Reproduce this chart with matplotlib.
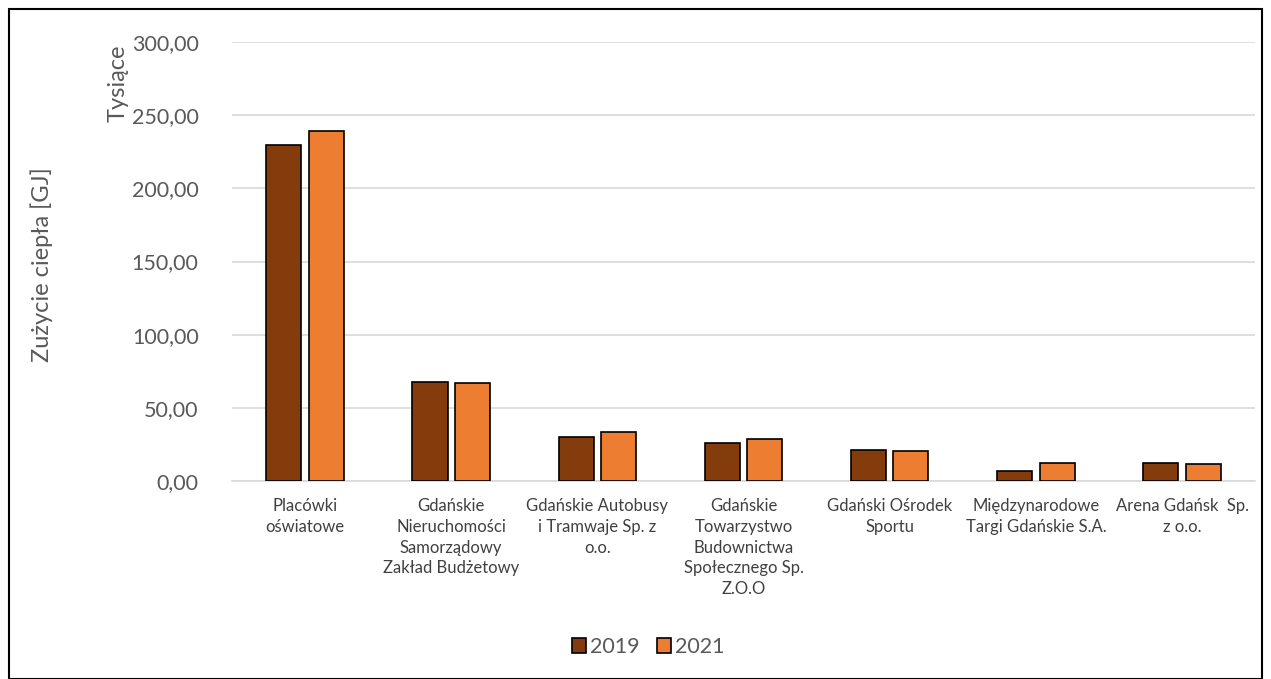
import matplotlib.pyplot as plt
import numpy as np
from matplotlib.patches import Rectangle

# Data (thousands of GJ)
categories = [
    "Placówki\noświatowe",
    "Gdańskie\nNieruchomości\nSamorządowy\nZakład Budżetowy",
    "Gdańskie Autobusy\ni Tramwaje Sp. z\no.o.",
    "Gdańskie\nTowarzystwo\nBudownictwa\nSpołecznego Sp.\nZ.O.O",
    "Gdański Ośrodek\nSportu",
    "Międzynarodowe\nTargi Gdańskie S.A.",
    "Arena Gdańsk  Sp.\nz o.o.",
]
values_2019 = [229.6, 67.5, 30.0, 25.7, 21.2, 6.8, 12.0]
values_2021 = [239.2, 67.0, 33.7, 28.7, 20.7, 12.5, 11.8]
series_names = ["2019", "2021"]
colors = ["#843c0c", "#ed7d31"]
yticks = [0, 50, 100, 150, 200, 250, 300]

plt.rcParams['font.family'] = ['Lato', 'DejaVu Sans']

fig = plt.figure(figsize=(12.71, 6.79), dpi=100)
ax = fig.add_axes([0.1825, 0.2916, 0.805, 0.6464])

x = np.arange(len(categories))
w = 0.24
gap = 0.05
ax.bar(x - (w + gap) / 2, values_2019, w, color=colors[0], edgecolor="black",
       linewidth=1.2, label=series_names[0], zorder=3)
ax.bar(x + (w + gap) / 2, values_2021, w, color=colors[1], edgecolor="black",
       linewidth=1.2, label=series_names[1], zorder=3)

ax.set_xlim(-0.5, len(categories) - 0.5)
ax.set_ylim(0, 300)
ax.set_yticks(yticks)
ax.set_yticklabels([f"{v:.2f}".replace(".", ",") for v in yticks],
                   fontsize=15.5, color="#595959")
ax.set_xticks(x)
ax.set_xticklabels(categories, fontsize=12, color="#404040", linespacing=1.38,
                   va="top")
ax.tick_params(length=0)
ax.tick_params(axis="y", pad=24)
ax.tick_params(axis="x", pad=12)

ax.grid(axis="y", color="#d9d9d9", linewidth=1.2, zorder=0)
for side in ["top", "right", "left"]:
    ax.spines[side].set_visible(False)
ax.spines["bottom"].set_color("#d9d9d9")
ax.spines["bottom"].set_linewidth(1.2)

fig.text(0.033, 0.61, "Zużycie ciepła [GJ]", rotation=90, fontsize=17,
         color="#595959", ha="center", va="center")
fig.text(0.093, 0.878, "Tysiące", rotation=90, fontsize=17,
         color="#595959", ha="center", va="center")

leg = fig.legend(loc="center", bbox_to_anchor=(0.51, 0.047), ncol=2, frameon=False,
                 fontsize=15.5, handlelength=0.65, handleheight=0.65,
                 handletextpad=0.2, columnspacing=0.8)
for t in leg.get_texts():
    t.set_color("#595959")

# outer chart border
fig.patches.append(Rectangle((0.007, 0.0), 0.986, 0.987, transform=fig.transFigure,
                             fill=False, edgecolor="black", linewidth=1.5))

fig.savefig("out.png", dpi=100)
